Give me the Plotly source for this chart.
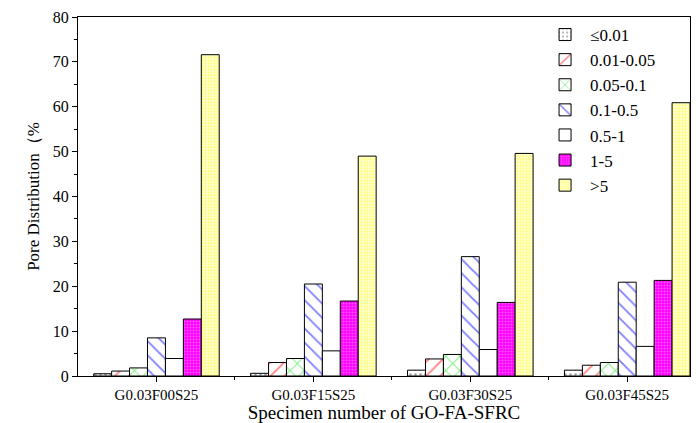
import plotly.graph_objects as go

categories = ["G0.03F00S25", "G0.03F15S25", "G0.03F30S25", "G0.03F45S25"]
series_names = ["≤0.01", "0.01-0.05", "0.05-0.1", "0.1-0.5", "0.5-1", "1-5", ">5"]
v_le001 = [0.5, 0.6, 1.3, 1.3]
v_001_005 = [1.1, 3.0, 3.8, 2.4]
v_005_01 = [1.8, 3.9, 4.8, 3.0]
v_01_05 = [8.5, 20.5, 26.6, 20.9]
v_05_1 = [3.9, 5.6, 5.9, 6.6]
v_1_5 = [12.7, 16.7, 16.4, 21.3]
v_gt5 = [71.6, 49.0, 49.6, 60.9]
values = [v_le001, v_001_005, v_005_01, v_01_05, v_05_1, v_1_5, v_gt5]

styles = [
    dict(bgcolor="white", fgcolor="#444444", shape=".", size=5, solidity=0.2),
    dict(bgcolor="white", fgcolor="red", shape="/", size=10, solidity=0.18),
    dict(bgcolor="white", fgcolor="#00dd00", shape="x", size=10, solidity=0.18),
    dict(bgcolor="white", fgcolor="blue", shape="\\", size=10, solidity=0.18),
    dict(bgcolor="white", fgcolor="white", shape="", size=8, solidity=0.2),
    dict(bgcolor="#ff00ff", fgcolor="#ffaaff", shape=".", size=3, solidity=0.35),
    dict(bgcolor="#ffffe0", fgcolor="#ffff00", shape=".", size=3, solidity=0.45),
]

xpos = list(range(len(categories)))
fig = go.Figure()
for name, vals, st in zip(series_names, values, styles):
    fig.add_trace(go.Bar(
        x=xpos, y=vals, name=name,
        marker=dict(color=st["bgcolor"], line=dict(color="black", width=1),
                    pattern=dict(shape=st["shape"], fgcolor=st["fgcolor"],
                                 bgcolor=st["bgcolor"], size=st["size"],
                                 solidity=st["solidity"], fillmode="overlay")),
    ))

serif = "Liberation Serif"
fig.update_layout(
    width=697, height=423,
    margin=dict(l=78, r=7, t=17, b=47),
    paper_bgcolor="white", plot_bgcolor="white",
    barmode="group", bargap=0.2, bargroupgap=0,
    font=dict(family=serif, color="black"),
    showlegend=True,
    legend=dict(x=0.755, y=1.0, xanchor="left", yanchor="top",
                font=dict(family=serif, size=17), bgcolor="rgba(255,255,255,0)",
                tracegroupgap=0, itemwidth=40),
    xaxis=dict(range=[-0.5, 3.4], tickvals=xpos, ticktext=categories,
               ticks="outside", ticklen=5, tickwidth=1, tickcolor="black",
               showline=True, linecolor="black", linewidth=1, mirror=True,
               showgrid=False, zeroline=False,
               tickfont=dict(family=serif, size=15),
               minor=dict(tickvals=[0.5, 1.5, 2.5], ticks="outside", ticklen=3,
                          tickcolor="black", showgrid=False),
               title=dict(text="Specimen number of GO-FA-SFRC",
                          font=dict(family=serif, size=19), standoff=0)),
    yaxis=dict(range=[0, 80], dtick=10, ticks="outside", ticklen=5, tickwidth=1,
               tickcolor="black", showline=True, linecolor="black", linewidth=1,
               mirror=True, showgrid=False, zeroline=False,
               tickfont=dict(family=serif, size=16),
               minor=dict(dtick=5, ticks="outside", ticklen=3, tickcolor="black",
                          showgrid=False),
               title=dict(text="Pore Distribution（%", font=dict(family=serif, size=17),
                          standoff=8)),
)
fig.write_html("out.html")
